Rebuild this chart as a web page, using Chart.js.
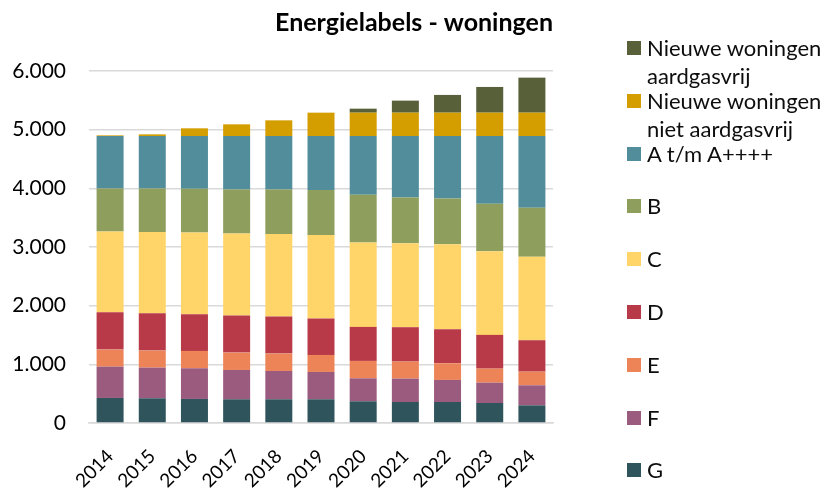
<!DOCTYPE html>
<html>
<head>
<meta charset="utf-8">
<script src="https://cdn.jsdelivr.net/npm/chart.js@4"></script>
<style>
  body { margin: 0; background: #fff; }
  #wrap { position: relative; width: 825px; height: 489px; }
  #legend { position: absolute; left: 0; top: 0; font-family: Lato, sans-serif; font-size: 22px; color: #0d0d0d; }
  .item { position: absolute; left: 627px; display: flex; align-items: flex-start; }
  .box { width: 14px; height: 14px; margin-top: 7px; margin-right: 6px; flex: none; }
  .txt { line-height: 28px; width: 185px; }
</style>
</head>
<body>
<div id="wrap">
  <canvas id="chart" width="825" height="489"></canvas>
  <div id="legend"></div>
</div>
<script>
const years = ['2014', '2015', '2016', '2017', '2018', '2019', '2020', '2021', '2022', '2023', '2024'];
const labelG = [427, 421, 410, 404, 404, 404, 370, 358, 358, 341, 301];
const labelF = [534, 523, 523, 500, 483, 466, 392, 399, 376, 347, 342];
const labelE = [290, 290, 296, 296, 296, 290, 296, 290, 284, 239, 233];
const labelD = [638, 637, 625, 632, 632, 620, 580, 586, 580, 575, 535];
const labelC = [1376, 1383, 1394, 1399, 1405, 1423, 1439, 1433, 1451, 1427, 1422];
const labelB = [734, 745, 745, 751, 762, 767, 814, 779, 779, 808, 836];
const labelA = [893, 893, 899, 910, 910, 922, 1001, 1047, 1064, 1155, 1223];
const nieuwNietGasvrij = [11, 28, 131, 199, 267, 398, 398, 398, 398, 398, 398];
const nieuwGasvrij = [0, 0, 0, 0, 0, 0, 68, 205, 302, 438, 597];
const yTicks = [0, 1000, 2000, 3000, 4000, 5000, 6000];

const fmt = v => String(v).replace(/\B(?=(\d{3})+(?!\d))/g, '.');

const datasets = [
  { label: 'G', data: labelG, backgroundColor: '#2f545c' },
  { label: 'F', data: labelF, backgroundColor: '#9b5b7e' },
  { label: 'E', data: labelE, backgroundColor: '#ec8458' },
  { label: 'D', data: labelD, backgroundColor: '#b83a48' },
  { label: 'C', data: labelC, backgroundColor: '#ffd56a' },
  { label: 'B', data: labelB, backgroundColor: '#8e9e5d' },
  { label: 'A t/m A++++', data: labelA, backgroundColor: '#528d9c' },
  { label: 'Nieuwe woningen niet aardgasvrij', data: nieuwNietGasvrij, backgroundColor: '#d49d00' },
  { label: 'Nieuwe woningen aardgasvrij', data: nieuwGasvrij, backgroundColor: '#576039' },
];

const ctx = document.getElementById('chart').getContext('2d');
const chart = new Chart(ctx, {
  type: 'bar',
  data: {
    labels: years,
    datasets: datasets.map(d => ({ ...d, barPercentage: 0.64, categoryPercentage: 1, borderWidth: 0 })),
  },
  options: {
    responsive: false,
    animation: false,
    layout: { autoPadding: false, padding: { left: 13, right: 272, top: 0, bottom: 0 } },
    plugins: {
      legend: { display: false },
      tooltip: { enabled: false },
      title: {
        display: true,
        text: 'Energielabels - woningen',
        align: 'end',
        color: '#000',
        font: { family: 'Lato', size: 25, weight: 'bold' },
        padding: { top: 8, bottom: 33 },
      },
    },
    scales: {
      x: {
        stacked: true,
        grid: { display: false },
        border: { color: '#d9d9d9', width: 1.5 },
        ticks: { color: '#000', font: { family: 'Lato', size: 19 }, minRotation: 45, maxRotation: 45, autoSkip: false, padding: 14 },
        // keep the plot bottom where the reference has it; labels may run to the edge
        afterFit: axis => { axis.height = 66; },
      },
      y: {
        stacked: true,
        min: 0,
        max: 6000,
        afterBuildTicks: axis => { axis.ticks = yTicks.map(v => ({ value: v })); },
        afterFit: axis => { axis.width = 76; },
        grid: { color: '#d9d9d9', lineWidth: 1.5, drawTicks: false },
        border: { display: false },
        ticks: { color: '#000', font: { family: 'Lato', size: 21 }, padding: 23, callback: v => fmt(v) },
      },
    },
  },
});

// legend, top entry = last dataset
const legend = document.getElementById('legend');
chart.data.datasets.slice().reverse().forEach((d, i) => {
  const item = document.createElement('div');
  item.className = 'item';
  item.style.top = (34 + i * 52.8) + 'px';
  item.innerHTML = '<span class="box" style="background:' + d.backgroundColor + '"></span><span class="txt">' + d.label + '</span>';
  legend.appendChild(item);
});
</script>
</body>
</html>
